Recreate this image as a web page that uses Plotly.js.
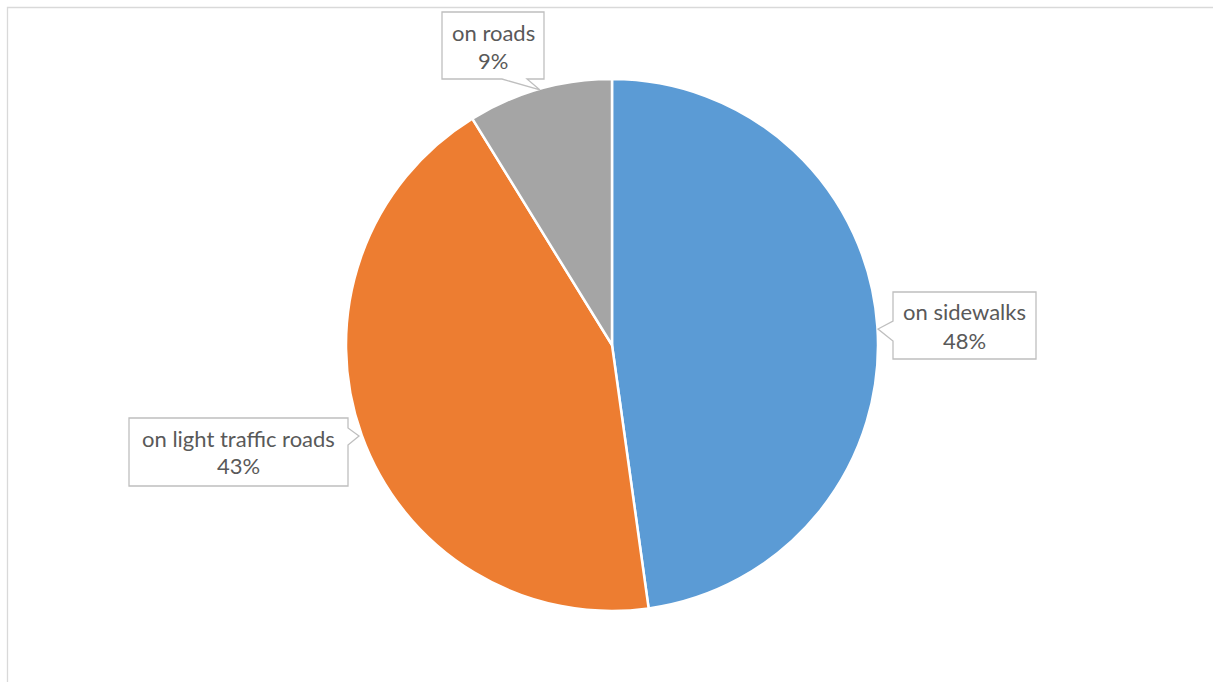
<!DOCTYPE html>
<html><head><meta charset="utf-8">
<script src="https://cdn.plot.ly/plotly-3.0.1.min.js"></script>
<style>html,body{margin:0;padding:0;background:#fff}#c{width:1213px;height:682px}</style>
</head><body><div id="c"></div>
<script>
const categories = ["on sidewalks", "on light traffic roads", "on roads"];
const values = [47.8, 43.4, 8.8];
const colors = ["#5B9BD5", "#ED7D31", "#A5A5A5"];

const W = 1213, H = 682;
const px = x => x / W, py = y => 1 - y / H;

// callout boxes (pixel geometry): box rect + pointer
const callouts = [
  {box:[893,292,1036,359], tx:964, ty:[311,340], ptr:{side:'left', a:321, b:341, tip:[878,329]}},
  {box:[129,418,348,486], tx:238, ty:[438,466], ptr:{side:'right', a:428, b:445, tip:[359,436]}},
  {box:[442,12,544,79], tx:493, ty:[33,60], ptr:{side:'bottom', a:502, b:527, tip:[540,90]}}
];

function calloutPath(c){
  const [x0,y0,x1,y1] = c.box, p = c.ptr;
  let pts;
  if (p.side==='left') pts=[[x0,y0],[x1,y0],[x1,y1],[x0,y1],[x0,p.b],p.tip,[x0,p.a]];
  else if (p.side==='right') pts=[[x0,y0],[x1,y0],[x1,p.a],p.tip,[x1,p.b],[x1,y1],[x0,y1]];
  else pts=[[x0,y0],[x1,y0],[x1,y1],[p.b,y1],p.tip,[p.a,y1],[x0,y1]];
  return 'M' + pts.map(q => px(q[0]).toFixed(5)+','+py(q[1]).toFixed(5)).join(' L') + ' Z';
}

const shapes = [{type:'rect', xref:'paper', yref:'paper', x0:px(7.5), y0:-0.1, x1:1.1, y1:py(7.5),
  line:{color:'#D9D9D9', width:1.3}, fillcolor:'rgba(0,0,0,0)'}];
callouts.forEach(c => shapes.push({type:'path', xref:'paper', yref:'paper', path:calloutPath(c),
  line:{color:'#BFBFBF', width:1.3}, fillcolor:'#FFFFFF', layer:'above'}));

const font = {family:'Lato, sans-serif', size:22, color:'#595959'};
const annotations = [];
callouts.forEach((c,i) => {
  annotations.push({xref:'paper', yref:'paper', x:px(c.tx), y:py(c.ty[0]), xanchor:'center', yanchor:'middle',
    text:categories[i], showarrow:false, font:font});
  annotations.push({xref:'paper', yref:'paper', x:px(c.tx), y:py(c.ty[1]), xanchor:'center', yanchor:'middle',
    text:Math.round(values[i])+'%', showarrow:false, font:font});
});

const cx=612, cy=345, r=266;
const data = [{type:'pie', labels:categories, values:values, sort:false, direction:'clockwise', rotation:0,
  marker:{colors:colors, line:{color:'#FFFFFF', width:2.5}}, textinfo:'none', hoverinfo:'label+percent',
  domain:{x:[px(cx-r), px(cx+r)], y:[py(cy+r), py(cy-r)]}}];

const layout = {width:W, height:H, margin:{l:0,r:0,t:0,b:0}, showlegend:false,
  paper_bgcolor:'#FFFFFF', shapes:shapes, annotations:annotations};
Plotly.newPlot('c', data, layout, {displayModeBar:false, staticPlot:true});
</script></body></html>
